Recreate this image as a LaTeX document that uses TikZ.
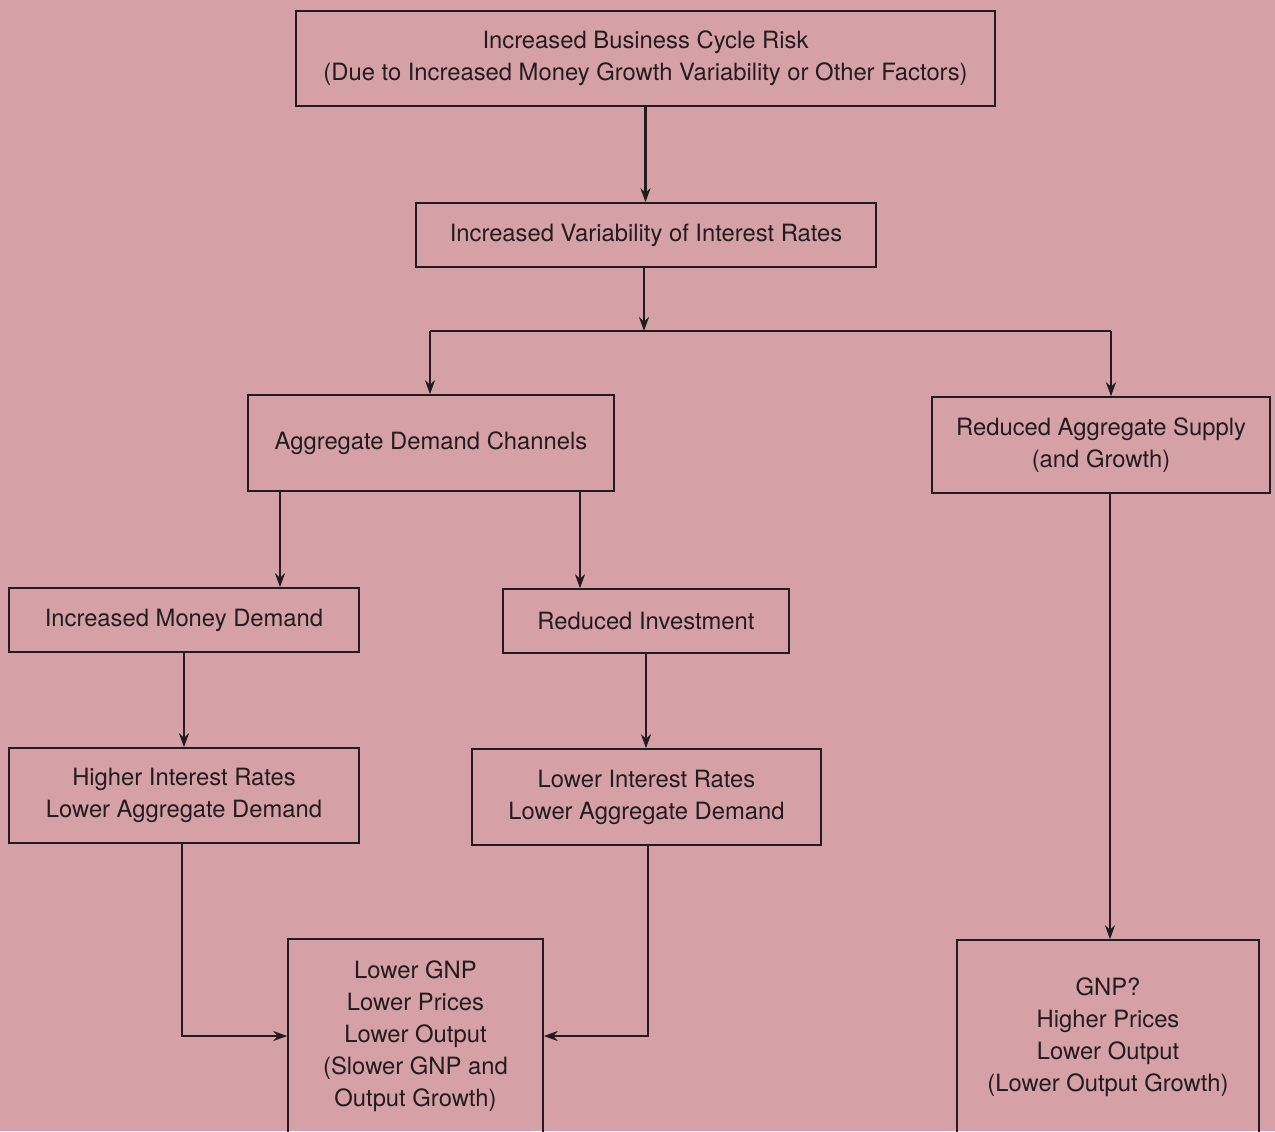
\documentclass[tikz,border=0pt]{standalone}
\usepackage{fontspec}
\setmainfont{TeX Gyre Heros}
\usetikzlibrary{arrows.meta}
\definecolor{paper}{RGB}{214,161,166}
\definecolor{ink}{RGB}{34,28,30}
\pgfdeclarelayer{backlayer}
\pgfdeclarelayer{edgelayer}
\pgfdeclarelayer{nodelayer}
\pgfsetlayers{backlayer,edgelayer,nodelayer,main}
\tikzstyle{box}=[rectangle, draw=ink, line width=0.8pt, text=ink, align=center, inner sep=0pt, font=\fontsize{11.9}{16}\selectfont]
\tikzstyle{arrow}=[draw=ink, line width=1.4pt, -{Stealth[length=7pt,width=5pt]}]
\tikzstyle{rule}=[draw=ink, line width=1.4pt]

\begin{document}
\begin{tikzpicture}[x=0.5pt, y=-0.5pt]
				\useasboundingbox (0, 0) rectangle (1275, 1131);
				\begin{pgfonlayer}{backlayer}
					\fill [paper] (0, 0) rectangle (1275, 1131);
				\end{pgfonlayer}
				\begin{pgfonlayer}{nodelayer}
					\node [style=box, minimum width=349.5pt, minimum height=47.5pt] (0) at (645.5, 58.5) {Increased Business Cycle Risk\\(Due to Increased Money Growth Variability or Other Factors)};
					\node [style=box, minimum width=230pt, minimum height=32pt] (1) at (646, 235) {Increased Variability of Interest Rates};
					\node [style=box, minimum width=183pt, minimum height=48pt] (2) at (431, 443) {Aggregate Demand Channels};
					\node [style=box, minimum width=169pt, minimum height=48pt] (3) at (1101, 445) {Reduced Aggregate Supply\\(and Growth)};
					\node [style=box, minimum width=175pt, minimum height=32pt] (4) at (184, 620) {Increased Money Demand};
					\node [style=box, minimum width=143pt, minimum height=32pt] (5) at (646, 621) {Reduced Investment};
					\node [style=box, minimum width=175pt, minimum height=47.5pt] (6) at (184, 795.5) {Higher Interest Rates\\Lower Aggregate Demand};
					\node [style=box, minimum width=174.5pt, minimum height=48pt] (7) at (646.5, 797) {Lower Interest Rates\\Lower Aggregate Demand};
					\node [style=box, minimum width=127.5pt, minimum height=97pt] (8) at (415.5, 1036) {Lower GNP\\Lower Prices\\Lower Output\\(Slower GNP and\\Output Growth)};
					\node [style=box, minimum width=151pt, minimum height=97pt] (9) at (1108, 1037) {GNP?\\Higher Prices\\Lower Output\\(Lower Output Growth)};
					\coordinate (10) at (644, 331);
					\coordinate (11) at (430, 331);
					\coordinate (12) at (1111, 331);
				\end{pgfonlayer}
				\begin{pgfonlayer}{edgelayer}
					\draw [style=arrow] (0.south) to (0.south |- 1.north);
					\draw [style=arrow] (1.south -| 10) to (10);
					\draw [style=rule] (11) to (12);
					\draw [style=arrow] (11) to (11 |- 2.north);
					\draw [style=arrow] (12) to (12 |- 3.north);
					\draw [style=arrow] ([xshift=-75.5pt]2.south) coordinate (13) to (13 |- 4.north);
					\draw [style=arrow] ([xshift=74.5pt]2.south) coordinate (14) to (14 |- 5.north);
					\draw [style=arrow] (4) to (6);
					\draw [style=arrow] (5.south) to (5.south |- 7.north);
					\draw [style=arrow] ([xshift=-1pt]6.south) |- (8.west);
					\draw [style=arrow] ([xshift=0.75pt]7.south) |- (8.east);
					\draw [style=arrow] ([xshift=4.5pt]3.south) coordinate (15) to (15 |- 9.north);
				\end{pgfonlayer}
			\end{tikzpicture}
\end{document}
